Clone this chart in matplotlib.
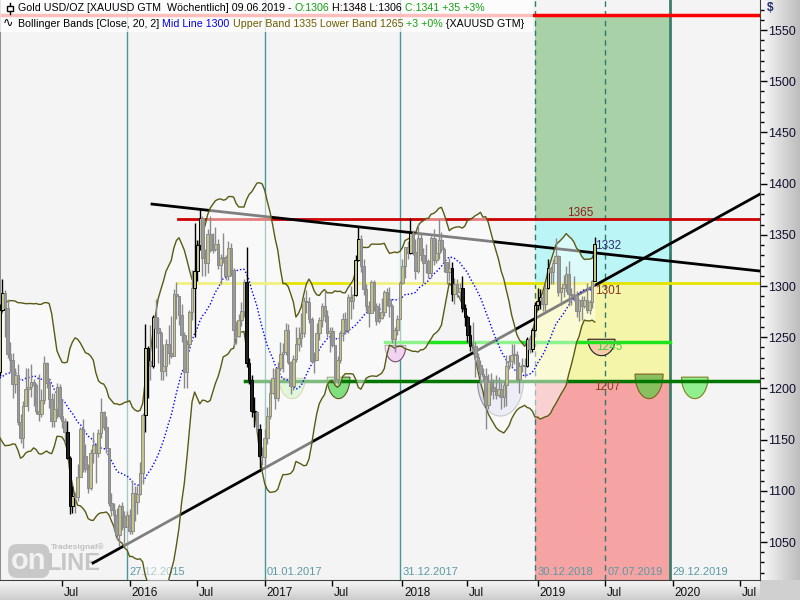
import numpy as np
import matplotlib
matplotlib.use("Agg")
import matplotlib.pyplot as plt
from matplotlib.patches import Rectangle, Polygon
from matplotlib.transforms import ScaledTranslation

plt.rcParams["font.family"] = ["Liberation Sans", "DejaVu Sans"]

# weekly XAUUSD bars, week 0 = bar dated 30.12.2018 (bars are dated by the Sunday after the week)
# the 2014 closes are off screen, they only feed the 20 week Bollinger Bands
first_week = -225
close_2014 = [1269, 1231, 1216, 1218, 1192, 1222, 1239, 1231, 1171, 1169, 1186, 1201, 1175, 1191, 1222, 1195, 1195]

close_2015 = [1187, 1216, 1277, 1293, 1279, 1234, 1228, 1204, 1213, 1167, 1152, 1183, 1199, 1201, 1206, 1203, 1178,
              1175, 1189, 1225, 1205, 1190, 1168, 1180, 1201, 1173, 1168, 1157, 1132, 1085, 1095, 1094, 1113, 1160,
              1134, 1121, 1103, 1137, 1145, 1137, 1156, 1177, 1162, 1142, 1088, 1081, 1076, 1057, 1085, 1075, 1065, 1076]
high_2015 = [1210, 1223, 1282, 1307, 1296, 1287, 1245, 1235, 1220, 1224, 1175, 1188, 1220, 1220, 1224, 1209, 1205,
             1214, 1199, 1232, 1226, 1210, 1196, 1196, 1205, 1204, 1190, 1171, 1168, 1134, 1105, 1099, 1126, 1162,
             1170, 1146, 1126, 1141, 1157, 1147, 1160, 1191, 1178, 1173, 1142, 1098, 1088, 1083, 1087, 1089, 1080, 1080]
low_2015 = [1167, 1187, 1212, 1276, 1250, 1230, 1216, 1191, 1196, 1164, 1147, 1142, 1183, 1178, 1192, 1183, 1175,
            1168, 1172, 1185, 1200, 1181, 1162, 1162, 1171, 1170, 1161, 1147, 1131, 1077, 1078, 1078, 1090, 1113,
            1118, 1118, 1098, 1101, 1127, 1108, 1133, 1152, 1159, 1137, 1085, 1075, 1062, 1052, 1046, 1062, 1046, 1065]

close_2016 = [1061, 1098, 1089, 1097, 1117, 1174, 1239, 1227, 1222, 1270, 1259, 1254, 1217, 1222, 1243, 1235, 1232,
              1292, 1290, 1272, 1252, 1216, 1243, 1275, 1298, 1315, 1340, 1366, 1327, 1322, 1351, 1335, 1336, 1341,
              1321, 1327, 1328, 1310, 1337, 1316, 1257, 1251, 1267, 1276, 1304, 1225, 1208, 1178, 1177, 1160, 1134,
              1133, 1152]
high_2016 = [1082, 1111, 1105, 1105, 1128, 1176, 1263, 1241, 1262, 1272, 1287, 1270, 1256, 1243, 1248, 1262, 1271,
             1297, 1304, 1290, 1282, 1255, 1247, 1277, 1316, 1362, 1345, 1375, 1368, 1336, 1356, 1368, 1352, 1358,
             1346, 1331, 1352, 1330, 1344, 1342, 1318, 1266, 1273, 1284, 1307, 1338, 1230, 1213, 1192, 1178, 1165,
             1143, 1160]
low_2016 = [1058, 1058, 1071, 1077, 1096, 1107, 1157, 1191, 1208, 1220, 1239, 1225, 1208, 1208, 1212, 1224, 1230,
            1232, 1268, 1262, 1245, 1200, 1200, 1239, 1267, 1250, 1305, 1335, 1310, 1310, 1313, 1333, 1332, 1334,
            1317, 1302, 1322, 1306, 1306, 1310, 1241, 1243, 1250, 1261, 1270, 1221, 1204, 1172, 1162, 1157, 1122,
            1125, 1124]

close_2017 = [1173, 1196, 1210, 1191, 1220, 1234, 1236, 1257, 1226, 1202, 1229, 1243, 1249, 1254, 1285, 1284, 1268,
              1227, 1228, 1254, 1267, 1280, 1271, 1254, 1256, 1242, 1209, 1228, 1254, 1268, 1257, 1289, 1285, 1291,
              1325, 1346, 1320, 1297, 1280, 1274, 1304, 1280, 1266, 1269, 1275, 1294, 1287, 1280, 1248, 1257, 1268, 1303]
high_2017 = [1182, 1207, 1220, 1220, 1226, 1245, 1244, 1264, 1263, 1227, 1233, 1260, 1260, 1274, 1289, 1296, 1289,
             1270, 1236, 1264, 1270, 1283, 1296, 1277, 1260, 1260, 1242, 1232, 1256, 1274, 1275, 1292, 1300, 1292,
             1330, 1358, 1350, 1326, 1302, 1285, 1306, 1306, 1283, 1283, 1288, 1296, 1298, 1299, 1282, 1260, 1272, 1305]
low_2017 = [1146, 1170, 1195, 1180, 1188, 1217, 1216, 1233, 1224, 1195, 1198, 1226, 1237, 1240, 1250, 1274, 1264,
            1225, 1215, 1228, 1247, 1260, 1265, 1250, 1236, 1240, 1205, 1204, 1225, 1246, 1253, 1254, 1268, 1278,
            1290, 1324, 1314, 1291, 1276, 1260, 1274, 1276, 1262, 1264, 1268, 1271, 1280, 1270, 1244, 1236, 1252, 1268]

close_2018 = [1320, 1338, 1332, 1352, 1333, 1315, 1347, 1330, 1322, 1324, 1313, 1347, 1325, 1332, 1345, 1336, 1323,
              1314, 1318, 1292, 1302, 1294, 1298, 1279, 1270, 1252, 1241, 1241, 1231, 1223, 1214, 1212, 1184, 1206,
              1201, 1197, 1194, 1199, 1192, 1203, 1222, 1227, 1233, 1233, 1209, 1222, 1223, 1222, 1248, 1238, 1257, 1281]
high_2018 = [1326, 1338, 1344, 1366, 1355, 1346, 1362, 1351, 1337, 1341, 1326, 1349, 1356, 1347, 1365, 1353, 1338,
             1323, 1327, 1323, 1308, 1307, 1303, 1310, 1282, 1272, 1262, 1265, 1245, 1235, 1228, 1220, 1220, 1214,
             1215, 1209, 1213, 1211, 1206, 1207, 1233, 1233, 1243, 1243, 1237, 1226, 1230, 1230, 1250, 1251, 1259, 1284]
low_2018 = [1302, 1308, 1326, 1331, 1330, 1307, 1313, 1324, 1303, 1313, 1308, 1308, 1321, 1322, 1326, 1333, 1314,
            1302, 1305, 1285, 1282, 1289, 1288, 1275, 1261, 1245, 1237, 1236, 1211, 1219, 1204, 1207, 1160, 1180,
            1194, 1190, 1190, 1192, 1180, 1182, 1183, 1219, 1221, 1224, 1207, 1196, 1216, 1211, 1221, 1235, 1236, 1256]

close_2019 = [1285, 1289, 1282, 1298, 1318, 1314, 1322, 1329, 1294, 1298, 1302, 1312, 1292, 1291, 1291, 1276, 1286,
              1280, 1286, 1277, 1284, 1305, 1341]
high_2019 = [1298, 1297, 1295, 1303, 1326, 1320, 1326, 1347, 1330, 1299, 1311, 1320, 1324, 1298, 1310, 1295, 1287,
             1290, 1290, 1303, 1286, 1306, 1348]
low_2019 = [1277, 1278, 1276, 1276, 1297, 1302, 1302, 1322, 1290, 1281, 1289, 1294, 1280, 1281, 1285, 1270, 1266,
            1267, 1279, 1274, 1273, 1279, 1305]

# drawn analysis objects (week, price)
level_top = 1565
level_resist = 1365
level_yellow = 1303
level_support1 = 1245
level_support2 = 1207
down_trend = [(-147.4, 1380.0), (86.6, 1314.6)]
up_trend = [(-170.1, 1029.5), (86.6, 1389.8)]
zone_weeks = (0, 52)
date_lines = [(-157, "27.12.2015"), (-104, "01.01.2017"), (-52, "31.12.2017"),
              (0, "30.12.2018"), (27, "07.07.2019"), (52, "29.12.2019")]
# bowls: centre week, half width (weeks), top price, depth, face, edge
bowls = [(-93.5, 5.0, 1210, 20, "#c4f0b8", "#b8b070"),
         (-75.6, 4.4, 1211, 21, "#80e080", "#5a5a20"),
         (-53.7, 4.0, 1242, 16, "#f2d4f2", "#705070"),
         (-13.3, 8.8, 1207, 34, "#dcdcf0", "#909098"),
         (25.6, 5.2, 1248, 16, "#f8cca8", "#202020"),
         (43.9, 5.4, 1214, 24, "#88c060", "#806020"),
         (61.5, 5.1, 1211, 21, "#90f090", "#808020")]
value_labels = [("1365", 12.4, 1371.5, "#8a2020"), ("1332", 23.1, 1339, "#303070"),
                ("1301", 23.1, 1295, "#803020"), ("1245", 23.6, 1240, "#40d040"),
                ("1207", 22.7, 1201, "#804020")]

W, H = 800, 600
X_LEFT, X_RIGHT = -205.9, 86.6
Y_LOW, Y_HIGH = 1012.9, 1579.3

closes = np.array(close_2014 + close_2015 + close_2016 + close_2017 + close_2018 + close_2019, dtype=float)
weeks_all = np.arange(first_week, first_week + len(closes))
highs = np.array(high_2015 + high_2016 + high_2017 + high_2018 + high_2019, dtype=float)
lows = np.array(low_2015 + low_2016 + low_2017 + low_2018 + low_2019, dtype=float)
n0 = len(close_2014)
c = closes[n0:]
o = closes[n0 - 1:-1]
wk = weeks_all[n0:]

# Bollinger Bands [Close, 20, 2]
mid = np.full(len(closes), np.nan)
sd = np.full(len(closes), np.nan)
for i in range(19, len(closes)):
    win = closes[i - 19:i + 1]
    mid[i] = win.mean()
    sd[i] = win.std()
upper = mid + 2 * sd
lower = mid - 2 * sd

fig = plt.figure(figsize=(8, 6), dpi=100)
fig.patch.set_facecolor("#f4f4f4")

# gradient side panels
axr = fig.add_axes([760 / W, 20 / H, 40 / W, 580 / H], zorder=-1)
axr.imshow(np.linspace(0.98, 0.74, 64)[None, :], cmap="gray", vmin=0, vmax=1, aspect="auto",
           extent=[0, 1, 0, 1])
axr.set_axis_off()
axb = fig.add_axes([0, 0, 760 / W, 20 / H], zorder=-1)
axb.imshow(np.linspace(0.97, 0.80, 32)[:, None], cmap="gray", vmin=0, vmax=1, aspect="auto",
           extent=[0, 1, 0, 1])
axb.set_axis_off()
axc = fig.add_axes([760 / W, 0, 40 / W, 20 / H], zorder=-1)
axc.set_facecolor("#d0d0d0")
axc.set_xticks([]); axc.set_yticks([])
for s in axc.spines.values():
    s.set_visible(False)

ax = fig.add_axes([0, 20 / H, 760 / W, 580 / H], zorder=0)
ax.set_facecolor("#f4f4f4")
ax.set_xlim(X_LEFT, X_RIGHT)
ax.set_ylim(Y_LOW, Y_HIGH)

# coloured target zones
z0, z1 = zone_weeks
ax.add_patch(Rectangle((z0, level_resist), z1 - z0, level_top - level_resist, color="#a8d1a8", lw=0, zorder=1))
ax.add_patch(Rectangle((z0, level_yellow), z1 - z0, level_resist - level_yellow, color="#bcf5f5", lw=0, zorder=1))
ax.add_patch(Rectangle((z0, level_support2), z1 - z0, level_yellow - level_support2, color="#f5f5aa", lw=0, zorder=1))
ax.add_patch(Rectangle((z0, Y_LOW), z1 - z0, level_support2 - Y_LOW, color="#f5a3a3", lw=0, zorder=1))

# vertical date lines and their labels
for k, lab in date_lines:
    if k in (0, 27):
        ax.axvline(k, color="#2e7a70", lw=1, ls=(0, (4, 3)), zorder=1.5)
    elif k == 52:
        ax.axvline(k, color="#3a7d6c", lw=2, zorder=1.5)
    else:
        ax.axvline(k, color="#4a9696", lw=1, zorder=1.5)
    ax.text(k + 0.9, 1020.5, lab, fontsize=8, color="#5a9aa6", va="center", ha="left", zorder=1.6)

# watermark logo
ax.text(11 / W, 1 - 561 / H, "on", transform=fig.transFigure, fontsize=21, fontweight="bold",
        color="#f2f2f2", va="center", ha="left", zorder=1.2,
        bbox=dict(boxstyle="round,pad=0.1,rounding_size=0.3", fc="#c8c8c8", ec="none"))
ax.text(46 / W, 1 - 564 / H, "LINE", transform=fig.transFigure, fontsize=17, fontweight="bold",
        color="#c6c6c6", va="center", ha="left", zorder=1.2)
ax.text(51 / W, 1 - 547 / H, "Tradesignal\u00ae", transform=fig.transFigure, fontsize=6,
        fontweight="bold", color="#c0c0c0", va="center", ha="left", zorder=1.2)

# horizontal levels and trend lines
ax.plot([X_LEFT, X_RIGHT], [level_top] * 2, color="#ff0000", lw=2.5, zorder=2.5, solid_capstyle="butt")
ax.text(-76.2, 1571.5, "1565", fontsize=8, color="#e06060", alpha=0.6, va="center", zorder=2.5)
ax.plot([-137.4, X_RIGHT], [level_resist] * 2, color="#cc0000", lw=2, zorder=2.5)
ax.plot([-137.4, X_RIGHT], [level_yellow] * 2, color="#e4e400", lw=2, zorder=2.5)
ax.plot([-57.7, 52], [level_support1] * 2, color="#1ee61e", lw=2.5, zorder=2.5)
ax.plot([-111.6, X_RIGHT], [level_support2] * 2, color="#007800", lw=2.5, zorder=2.5)
ax.plot(*zip(*down_trend), color="black", lw=2, zorder=2.6)
ax.plot(*zip(*up_trend), color="black", lw=2, zorder=2.6)

for cx, a, top, depth, fc, ec in bowls:
    t = np.linspace(np.pi, 2 * np.pi, 40)
    pts = np.column_stack([cx + a * np.cos(t), top + depth * np.sin(t)])
    ax.add_patch(Polygon(pts, closed=True, fc=fc, ec=ec, lw=0.8, zorder=2.2))

# Bollinger Bands
vis = weeks_all >= -207
ax.fill_between(weeks_all[vis], lower[vis], upper[vis], color="white", alpha=0.5, lw=0, zorder=3)
ax.plot(weeks_all[vis], upper[vis], color="#5a5a14", lw=1, zorder=3.5)
ax.plot(weeks_all[vis], lower[vis], color="#5a5a14", lw=1, zorder=3.5)
ax.plot(weeks_all[vis], mid[vis], color="#0000ff", lw=1, ls=(0, (1, 1.5)), zorder=3.5)

# candles, black when the close is outside the bands
up_b = upper[n0:]
lo_b = lower[n0:]
outside = (c > up_b) | (c < lo_b)
rising = c >= o
edge = np.where(outside, "black", "#8a8a8a")
face = np.where(rising, "#c4c488", np.where(outside, "#202020", "#9a9a9a"))
ax.vlines(wk, lows, highs, colors=edge, lw=1.0, zorder=4)
ax.bar(wk, np.maximum(np.abs(c - o), 0.3), bottom=np.minimum(o, c), width=1.0,
       color=face, edgecolor=edge, linewidth=0.7, zorder=4.1)

for txt, k, p, col in value_labels:
    ax.text(k, p, txt, fontsize=8.5, color=col, va="center", ha="left", zorder=5)

# axes, ticks
ax.spines["top"].set_visible(False)
ax.spines["left"].set_color("#909090")
ax.spines["bottom"].set_color("#404040")
ax.spines["right"].set_color("#404040")

ax.yaxis.tick_right()
ax.set_yticks(np.arange(1050, 1551, 50))
ax.set_yticks(np.arange(1020, 1580, 10), minor=True)
ax.tick_params(axis="y", which="major", length=5, width=1, pad=1, labelsize=9, labelcolor="#101030")
ax.tick_params(axis="y", which="minor", length=3, width=1)

ref = np.datetime64("2018-12-30")
tick_dates = np.arange(np.datetime64("2015-07"), np.datetime64("2020-08"), np.timedelta64(6, "M"))
tick_weeks = [int(np.ceil((d.astype("datetime64[D]") - ref).astype(int) / 7)) for d in tick_dates]
tick_labels = ["Jul" if str(d).endswith("-07") else str(d)[:4] for d in tick_dates]
ax.set_xticks(tick_weeks)
ax.set_xticklabels(tick_labels)
ax.tick_params(axis="x", length=4, width=1, pad=1, labelsize=8.5, labelcolor="#101010")
for lbl in ax.get_xticklabels():
    lbl.set_horizontalalignment("left")
    lbl.set_transform(lbl.get_transform() + ScaledTranslation(1.5 / 100, 0, fig.dpi_scale_trans))

fig.text(767 / W, 1 - 8 / H, "$", fontsize=8.5, fontweight="bold", color="#203070", va="center")

# header
fig.add_artist(Rectangle((0, 1 - 32 / H), 533 / W, 32 / H, transform=fig.transFigure,
                         fc="white", ec="none", alpha=0.75, zorder=1))
renderer = fig.canvas.get_renderer()
HEAD_SIZE = 7.7


def text_width(s):
    t = fig.text(0, 0, s, fontsize=HEAD_SIZE)
    w = t.get_window_extent(renderer).width
    t.remove()
    return w


def header_line(y_px, parts):
    x0 = 18
    prefix = ""
    base = text_width("l")
    for s, col in parts:
        x = x0 + (text_width(prefix + "l") - base if prefix else 0)
        fig.text(x / W, 1 - y_px / H, s, fontsize=HEAD_SIZE, color=col, va="center", ha="left", zorder=3)
        prefix += s


green = "#14a014"
header_line(8, [("Gold USD/OZ [XAUUSD GTM  Wöchentlich] 09.06.2019 - ", "black"), ("O:1306", green),
                (" H:1348 L:1306 ", "black"), ("C:1341 +35 +3%", green)])
header_line(24, [("Bollinger Bands [Close, 20, 2] ", "black"), ("Mid Line 1300", "#0000ee"),
                 (" Upper Band 1335 Lower Band 1265", "#6e5c00"), (" +3 +0%", green),
                 (" {XAUUSD GTM}", "black")])
# little series icons in front of the header lines
fig.add_artist(plt.Line2D([10 / W, 10 / W], [1 - 3 / H, 1 - 14 / H], transform=fig.transFigure,
                          color="black", lw=1, zorder=3))
fig.add_artist(Rectangle((7 / W, 1 - 11 / H), 6 / W, 5 / H, transform=fig.transFigure,
                         fc="white", ec="black", lw=1, zorder=3.1))
fig.text(3 / W, 1 - 24 / H, "\u223f", fontsize=9, color="black", va="center", zorder=3)

fig.savefig("out.png", dpi=100)
